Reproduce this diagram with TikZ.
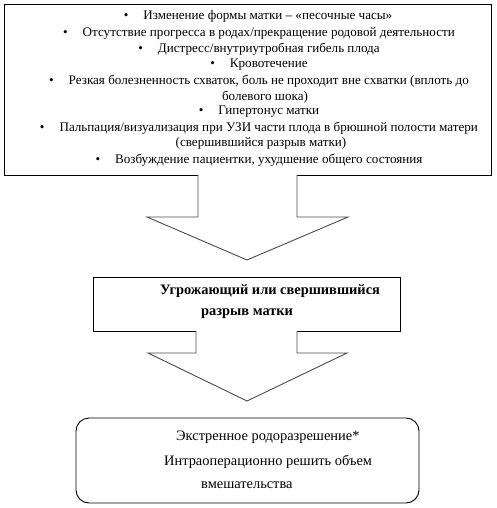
\documentclass[tikz,border=0pt]{standalone}
\usepackage{fontspec}
\setmainfont{Liberation Serif}
\begin{document}
\begin{tikzpicture}[x=1pt,y=-1pt,
  boxline/.style={draw=black,line width=0.9pt},
  arrowline/.style={draw=black!70,line width=0.9pt,fill=white},
  toptext/.style={inner sep=0pt,font=\fontsize{13.1}{15}\selectfont},
  midtext/.style={inner sep=0pt,anchor=west,font=\fontsize{14.4}{16}\selectfont\bfseries},
  bottext/.style={inner sep=0pt,anchor=west,font=\fontsize{14.4}{16}\selectfont}]
\useasboundingbox (0,0) rectangle (497,508);
\newcommand{\bul}{\textbullet\hspace{15pt}}
% top box
\path[boxline] (4,4) rectangle (491,175);
\node[toptext] (t1) at (258,16) {\bul Изменение формы матки – «песочные часы»};
\node[toptext] (t2) at (259,33) {\bul Отсутствие прогресса в родах/прекращение родовой деятельности};
\node[toptext] (t3) at (259,49) {\bul Дистресс/внутриутробная гибель плода};
\node[toptext] (t4) at (259,65) {\bul Кровотечение};
\node[toptext] (t5) at (259,81) {\bul Резкая болезненность схваток, боль не проходит вне схватки (вплоть до};
\node[toptext] (t6) at (265,97) {болевого шока)};
\node[toptext] (t7) at (259,112) {\bul Гипертонус матки};
\node[toptext] (t8) at (259,128) {\bul Пальпация/визуализация при УЗИ части плода в брюшной полости матери};
\node[toptext] (t9) at (261,143) {(свершившийся разрыв матки)};
\node[toptext] (t10) at (259,160) {\bul Возбуждение пациентки, ухудшение общего состояния};
% arrow 1
\coordinate (a1) at (198,175);
\coordinate (a2) at (297,175);
\path[arrowline] (a1) -- (198,217) -- (147,217) -- (247,260) -- (348,217) -- (297,217) -- (a2);
% middle box
\path[boxline] (93,277) rectangle (400,331);
\node[midtext] (m1) at (160,291) {Угрожающий или свершившийся};
\node[midtext] (m2) at (201,314) {разрыв матки};
% arrow 2
\coordinate (b1) at (196,331);
\coordinate (b2) at (297,331);
\path[arrowline] (b1) -- (196,353) -- (148,353) -- (247,401) -- (347,353) -- (297,353) -- (b2);
% bottom box
\path[boxline,rounded corners=13pt] (76,418) rectangle (419,503);
\node[bottext] (e1) at (176,437) {Экстренное родоразрешение*};
\node[bottext] (e2) at (164,462) {Интраоперационно решить объем};
\node[bottext] (e3) at (201,485) {вмешательства};
\end{tikzpicture}
\end{document}
